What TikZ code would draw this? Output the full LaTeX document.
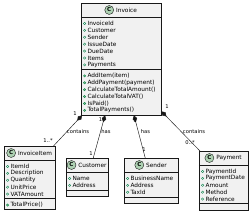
\documentclass[tikz,border=0pt]{standalone}
\usepackage{fontspec}
\setmainfont{DejaVu Sans}
\usetikzlibrary{arrows.meta,calc,positioning}
\definecolor{boxfill}{HTML}{F1F1F1}
\definecolor{boxline}{HTML}{181818}
\definecolor{cfill}{HTML}{ADD1B2}
\definecolor{icoline}{HTML}{038048}
\definecolor{icofill}{HTML}{84BE84}
\newcommand{\umlfld}[4]{\node[fieldico] (#1i) at (#2+3.6,#3) {}; \node[rowtext] (#1) at (#2+6.4,#3) {#4};}
\newcommand{\umlmth}[4]{\node[methico] (#1i) at (#2+3.6,#3) {}; \node[rowtext] (#1) at (#2+6.4,#3) {#4};}
\begin{document}
\begin{tikzpicture}[x=1pt,y=-1pt,
  classbox/.style={draw=boxline,fill=boxfill,line width=0.5pt,inner sep=0pt,anchor=north west},
  sepline/.style={draw=boxline,line width=0.45pt},
  rowtext/.style={anchor=west,inner sep=0pt,font=\fontsize{5.8}{6.9}\selectfont,text=black},
  titletext/.style={inner sep=0pt,font=\fontsize{5.8}{6.9}\selectfont,text=black},
  fieldico/.style={circle,draw=icoline,line width=0.35pt,minimum size=2.4pt,inner sep=0pt},
  methico/.style={circle,draw=icoline,fill=icofill,line width=0.35pt,minimum size=2.4pt,inner sep=0pt},
  cico/.style={circle,draw=boxline,fill=cfill,line width=0.4pt,minimum size=9pt,inner sep=0pt,font=\bfseries\fontsize{5.5}{6}\selectfont},
  conn/.style={draw=boxline,line width=0.45pt},
  lbl/.style={inner sep=0pt,font=\fontsize{5.2}{6}\selectfont,text=black},
  comp/.style={{Diamond[length=7pt,width=4.5pt]}-}
]
\useasboundingbox (0,0) rectangle (250,213);

% ---------------- Invoice ----------------
\node[classbox,minimum width=80pt,minimum height=111.9pt] (inv) at (81,3) {};
\node[titletext] (invt) at (126.5,10) {Invoice};
\node[cico,left=2pt of invt] (invc) {C};
\draw[sepline] (81,17) -- (161,17);
\umlfld{f1}{81}{23.5}{InvoiceId}
\umlfld{f2}{81}{30.4}{Customer}
\umlfld{f3}{81}{37.3}{Sender}
\umlfld{f4}{81}{44.2}{IssueDate}
\umlfld{f5}{81}{51.1}{DueDate}
\umlfld{f6}{81}{58.0}{Items}
\umlfld{f7}{81}{64.9}{Payments}
\draw[sepline] (81,69.4) -- (161,69.4);
\umlmth{m1}{81}{75.9}{AddItem(item)}
\umlmth{m2}{81}{82.8}{AddPayment(payment)}
\umlmth{m3}{81}{89.7}{CalculateTotalAmount()}
\umlmth{m4}{81}{96.6}{CalculateTotalVAT()}
\umlmth{m5}{81}{103.5}{IsPaid()}
\umlmth{m6}{81}{110.4}{TotalPayments()}

% ---------------- InvoiceItem ----------------
\node[classbox,minimum width=51pt,minimum height=63pt] (itm) at (4,146) {};
\node[titletext] (itmt) at (35,153) {InvoiceItem};
\node[cico,left=2pt of itmt] (itmc) {C};
\draw[sepline] (4,160) -- (55,160);
\umlfld{a1}{4}{166.5}{ItemId}
\umlfld{a2}{4}{173.4}{Description}
\umlfld{a3}{4}{180.3}{Quantity}
\umlfld{a4}{4}{187.2}{UnitPrice}
\umlfld{a5}{4}{194.1}{VATAmount}
\draw[sepline] (4,198.6) -- (55,198.6);
\umlmth{a6}{4}{205.1}{TotalPrice()}

% ---------------- Customer ----------------
\node[classbox,minimum width=42pt,minimum height=37.9pt] (cus) at (66,158) {};
\node[titletext] (cust) at (92.5,165) {Customer};
\node[cico,left=2pt of cust] (cusc) {C};
\draw[sepline] (66,172) -- (108,172);
\umlfld{b1}{66}{178.5}{Name}
\umlfld{b2}{66}{185.4}{Address}
\draw[sepline] (66,189.9) -- (108,189.9);

% ---------------- Sender ----------------
\node[classbox,minimum width=54pt,minimum height=44.8pt] (snd) at (124,158) {};
\node[titletext] (sndt) at (156.5,165) {Sender};
\node[cico,left=2pt of sndt] (sndc) {C};
\draw[sepline] (124,172) -- (178,172);
\umlfld{s1}{124}{178.5}{BusinessName}
\umlfld{s2}{124}{185.4}{Address}
\umlfld{s3}{124}{192.3}{TaxId}
\draw[sepline] (124,196.8) -- (178,196.8);

% ---------------- Payment ----------------
\node[classbox,minimum width=49pt,minimum height=58.6pt] (pay) at (199,151) {};
\node[titletext] (payt) at (229,158) {Payment};
\node[cico,left=2pt of payt] (payc) {C};
\draw[sepline] (199,165) -- (248,165);
\umlfld{p1}{199}{171.5}{PaymentId}
\umlfld{p2}{199}{178.4}{PaymentDate}
\umlfld{p3}{199}{185.3}{Amount}
\umlfld{p4}{199}{192.2}{Method}
\umlfld{p5}{199}{199.1}{Reference}
\draw[sepline] (199,203.6) -- (248,203.6);

% ---------------- connectors ----------------
\coordinate (c1s) at ($(inv.south west)+(1,0)$);
\coordinate (c1e) at ($(itm.north east)+(-2,0)$);
\coordinate (c2s) at ($(inv.south west)+(24,0)$);
\coordinate (c2e) at ($(cus.north)+(6,0)$);
\coordinate (c3s) at ($(inv.south west)+(53,0)$);
\coordinate (c3e) at ($(snd.north)+(-6,0)$);
\coordinate (c4s) at ($(inv.south east)+(0,-4)$);
\coordinate (c4e) at ($(pay.north west)+(1,0)$);
\draw[conn,comp] (c1s) -- (c1e);
\draw[conn,comp] (c2s) -- (c2e);
\draw[conn,comp] (c3s) -- (c3e);
\draw[conn,comp] (c4s) -- (c4e);

% ---------------- labels ----------------
\node[lbl] (l1a) at (75,114) {1};
\node[lbl] (l1b) at (78,132) {contains};
\node[lbl] (l1c) at (48,141) {1..*};
\node[lbl] (l2a) at (100.5,119.5) {1};
\node[lbl] (l2b) at (106,132) {has};
\node[lbl] (l2c) at (91,154) {1};
\node[lbl] (l3a) at (135,121) {1};
\node[lbl] (l3b) at (145.5,132) {has};
\node[lbl] (l3c) at (144,150) {1};
\node[lbl] (l4a) at (167,107) {1};
\node[lbl] (l4b) at (194,132) {contains};
\node[lbl] (l4c) at (190,143) {0..*};
\end{tikzpicture}
\end{document}
